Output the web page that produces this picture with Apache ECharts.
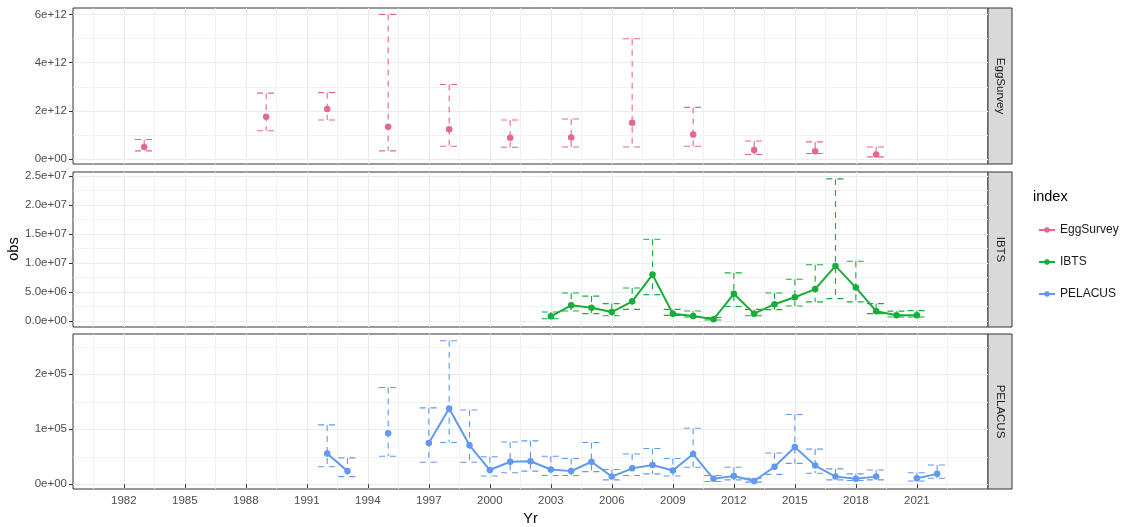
<!DOCTYPE html>
<html>
<head>
<meta charset="utf-8">
<script src="https://cdn.jsdelivr.net/npm/echarts@6/dist/echarts.min.js"></script>
<style>
  html, body { margin: 0; padding: 0; background: #fff; }
  #chart-container { width: 1121px; height: 527px; }
</style>
</head>
<body>
<div id="chart-container"></div>
<script>
// x axis ticks (years)
const xMajor = [1982, 1985, 1988, 1991, 1994, 1997, 2000, 2003, 2006, 2009, 2012, 2015, 2018, 2021];
const xMinor = [1980.5, 1983.5, 1986.5, 1989.5, 1992.5, 1995.5, 1998.5, 2001.5, 2004.5, 2007.5, 2010.5, 2013.5, 2016.5, 2019.5, 2022.5];

// EggSurvey
const eggYears = [1983, 1989, 1992, 1995, 1998, 2001, 2004, 2007, 2010, 2013, 2016, 2019];
const eggObs = [0.51e12, 1.76e12, 2.08e12, 1.35e12, 1.24e12, 0.89e12, 0.90e12, 1.51e12, 1.03e12, 0.38e12, 0.33e12, 0.20e12];
const eggLo = [0.35e12, 1.18e12, 1.63e12, 0.35e12, 0.54e12, 0.50e12, 0.51e12, 0.51e12, 0.54e12, 0.20e12, 0.24e12, 0.10e12];
const eggHi = [0.82e12, 2.74e12, 2.76e12, 6.00e12, 3.10e12, 1.63e12, 1.67e12, 4.99e12, 2.15e12, 0.76e12, 0.72e12, 0.51e12];
const eggTicks = [0, 2e12, 4e12, 6e12];
const eggTickLabels = ['0e+00', '2e+12', '4e+12', '6e+12'];
const eggMinor = [1e12, 3e12, 5e12];

// IBTS
const ibtsYears = [2003, 2004, 2005, 2006, 2007, 2008, 2009, 2010, 2011, 2012, 2013, 2014, 2015, 2016, 2017, 2018, 2019, 2020, 2021];
const ibtsObs = [0.81e6, 2.7e6, 2.3e6, 1.55e6, 3.4e6, 8.0e6, 1.27e6, 0.87e6, 0.3e6, 4.7e6, 1.27e6, 2.9e6, 4.1e6, 5.5e6, 9.5e6, 5.76e6, 1.7e6, 0.98e6, 0.98e6];
const ibtsLo = [0.4e6, 1.73e6, 1.27e6, 0.9e6, 2.0e6, 4.55e6, 0.98e6, 0.7e6, 0.18e6, 2.5e6, 0.9e6, 1.96e6, 2.6e6, 3.3e6, 3.86e6, 3.3e6, 1.27e6, 0.7e6, 0.7e6];
const ibtsHi = [1.55e6, 4.83e6, 4.3e6, 3.0e6, 5.7e6, 14.1e6, 2.0e6, 1.73e6, 0.6e6, 8.3e6, 2.0e6, 4.83e6, 7.2e6, 9.7e6, 24.5e6, 10.3e6, 3.0e6, 1.7e6, 1.8e6];
const ibtsTicks = [0, 5e6, 1e7, 1.5e7, 2e7, 2.5e7];
const ibtsTickLabels = ['0.0e+00', '5.0e+06', '1.0e+07', '1.5e+07', '2.0e+07', '2.5e+07'];
const ibtsMinor = [2.5e6, 7.5e6, 12.5e6, 17.5e6, 22.5e6];

// PELACUS
const pelYears = [1992, 1993, 1995, 1997, 1998, 1999, 2000, 2001, 2002, 2003, 2004, 2005, 2006, 2007, 2008, 2009, 2010, 2011, 2012, 2013, 2014, 2015, 2016, 2017, 2018, 2019, 2021, 2022];
const pelObs = [56e3, 24e3, 93e3, 75e3, 138e3, 71e3, 26e3, 41e3, 42e3, 27e3, 24e3, 41e3, 14e3, 29e3, 35e3, 25e3, 55e3, 10e3, 15e3, 6e3, 32e3, 68e3, 34e3, 14e3, 10e3, 14e3, 11e3, 19e3];
const pelLo = [32e3, 14e3, 51e3, 40e3, 76e3, 40e3, 15e3, 21e3, 24e3, 16e3, 16e3, 23e3, 8e3, 16e3, 19e3, 15e3, 31e3, 5e3, 8e3, 4e3, 18e3, 38e3, 20e3, 8e3, 7e3, 8e3, 6e3, 11e3];
const pelHi = [108e3, 48e3, 176e3, 139e3, 261e3, 135e3, 50e3, 77e3, 79e3, 51e3, 47e3, 76e3, 27e3, 55e3, 65e3, 47e3, 102e3, 16e3, 31e3, 11e3, 57e3, 127e3, 64e3, 28e3, 19e3, 26e3, 21e3, 35e3];
const pelTicks = [0, 1e5, 2e5];
const pelTickLabels = ['0e+00', '1e+05', '2e+05'];
const pelMinor = [5e4, 1.5e5, 2.5e5];

const FONT = "'Liberation Sans', Arial, sans-serif";
const panels = [
  { name: 'EggSurvey', color: '#E7678C', years: eggYears, obs: eggObs, lo: eggLo, hi: eggHi,
    ticks: eggTicks, labels: eggTickLabels, minor: eggMinor, min: -0.195e12, max: 6.266e12, top: 8, height: 156 },
  { name: 'IBTS', color: '#16AD3A', years: ibtsYears, obs: ibtsObs, lo: ibtsLo, hi: ibtsHi,
    ticks: ibtsTicks, labels: ibtsTickLabels, minor: ibtsMinor, min: -1.03e6, max: 25.69e6, top: 172, height: 155 },
  { name: 'PELACUS', color: '#6199F0', years: pelYears, obs: pelObs, lo: pelLo, hi: pelHi,
    ticks: pelTicks, labels: pelTickLabels, minor: pelMinor, min: -8.5e3, max: 273.3e3, top: 334, height: 155 }
];

const LEFT = 73, WIDTH = 915;

// break the line where years are not consecutive
function lineData(years, vals) {
  const out = [];
  years.forEach(function (y, i) {
    if (i > 0 && y - years[i - 1] > 1) out.push([y - 1, null]);
    out.push([y, vals[i]]);
  });
  return out;
}

function renderErrorBar(params, api) {
  const x = api.value(0);
  const pLo = api.coord([x, api.value(1)]);
  const pHi = api.coord([x, api.value(2)]);
  const half = api.size([0.9, 0])[0] / 2;
  const style = { stroke: api.visual('color'), lineWidth: 1.1, lineDash: [6, 5], fill: null };
  return {
    type: 'group',
    children: [
      { type: 'line', shape: { x1: pHi[0] - half, y1: pHi[1], x2: pHi[0] + half, y2: pHi[1] }, style: style },
      { type: 'line', shape: { x1: pHi[0], y1: pHi[1], x2: pLo[0], y2: pLo[1] }, style: style },
      { type: 'line', shape: { x1: pLo[0] - half, y1: pLo[1], x2: pLo[0] + half, y2: pLo[1] }, style: style }
    ]
  };
}

const grids = [], xAxes = [], yAxes = [], series = [], graphics = [];

panels.forEach(function (p, i) {
  const last = i === panels.length - 1;
  grids.push({
    left: LEFT, top: p.top, width: WIDTH, height: p.height,
    show: true, borderColor: '#333333', borderWidth: 1, backgroundColor: '#ffffff'
  });
  // major x
  xAxes.push({
    type: 'value', gridIndex: i, min: 1979.5, max: 2024.5, position: 'bottom',
    axisLine: { show: false },
    axisTick: { show: last, customValues: xMajor, length: 4, lineStyle: { color: '#333333' } },
    axisLabel: {
      show: last, customValues: xMajor, color: '#4D4D4D', fontSize: 11.5, margin: 6, fontFamily: FONT,
      formatter: function (v) { return String(v); }
    },
    splitLine: { show: true, lineStyle: { color: '#EBEBEB', width: 1 } },
    name: last ? 'Yr' : '', nameLocation: 'middle', nameGap: 22,
    nameTextStyle: { fontSize: 14.5, color: '#000', fontFamily: FONT }
  });
  // minor x
  xAxes.push({
    type: 'value', gridIndex: i, min: 1979.5, max: 2024.5, position: 'top',
    axisLine: { show: false },
    axisTick: { show: false, customValues: xMinor },
    axisLabel: { show: false },
    splitLine: { show: true, lineStyle: { color: '#EFEFEF', width: 0.8 } }
  });
  // major y
  yAxes.push({
    type: 'value', gridIndex: i, min: p.min, max: p.max, position: 'left',
    axisLine: { show: false },
    axisTick: { show: true, customValues: p.ticks, length: 4, lineStyle: { color: '#333333' } },
    axisLabel: {
      customValues: p.ticks, color: '#4D4D4D', fontSize: 11.5, margin: 6, fontFamily: FONT,
      formatter: function (v) {
        const k = p.ticks.findIndex(function (t) { return Math.abs(t - v) < 1e-6 * (Math.abs(t) + 1); });
        return k >= 0 ? p.labels[k] : '';
      }
    },
    splitLine: { show: true, lineStyle: { color: '#EBEBEB', width: 1 } }
  });
  // minor y
  yAxes.push({
    type: 'value', gridIndex: i, min: p.min, max: p.max, position: 'right',
    axisLine: { show: false },
    axisTick: { show: false, customValues: p.minor },
    axisLabel: { show: false },
    splitLine: { show: true, lineStyle: { color: '#EFEFEF', width: 0.8 } }
  });

  series.push({
    name: p.name, type: 'line', xAxisIndex: i * 2, yAxisIndex: i * 2,
    data: lineData(p.years, p.obs), connectNulls: false,
    symbol: 'circle', symbolSize: 6.5, showSymbol: true,
    itemStyle: { color: p.color }, lineStyle: { color: p.color, width: 2 }, z: 3
  });
  series.push({
    name: p.name, type: 'custom', xAxisIndex: i * 2, yAxisIndex: i * 2,
    data: p.years.map(function (y, k) { return [y, p.lo[k], p.hi[k]]; }),
    encode: { x: 0, y: [1, 2] },
    itemStyle: { color: p.color }, renderItem: renderErrorBar, z: 2
  });

  // facet strip
  graphics.push({
    type: 'rect', shape: { x: LEFT + WIDTH, y: p.top, width: 24, height: p.height },
    style: { fill: '#D9D9D9', stroke: '#333333', lineWidth: 1 }
  });
  graphics.push({
    type: 'text', x: LEFT + WIDTH + 12, y: p.top + p.height / 2, rotation: -Math.PI / 2,
    style: { text: p.name, fill: '#1A1A1A', font: '11.5px ' + FONT, align: 'center', verticalAlign: 'middle' }
  });
});

graphics.push({
  type: 'text', x: 14, y: 249, rotation: Math.PI / 2,
  style: { text: 'obs', fill: '#000', font: '14.5px ' + FONT, align: 'center', verticalAlign: 'middle' }
});
graphics.push({
  type: 'text', x: 1033, y: 197,
  style: { text: 'index', fill: '#000', font: '14.5px ' + FONT, align: 'left', verticalAlign: 'middle' }
});

const chart = echarts.init(document.getElementById('chart-container'));
chart.setOption({
  animation: false,
  backgroundColor: '#ffffff',
  textStyle: { fontFamily: FONT },
  grid: grids,
  xAxis: xAxes,
  yAxis: yAxes,
  legend: {
    orient: 'vertical', left: 1033, top: 219,
    itemWidth: 16, itemHeight: 7, itemGap: 20,
    lineStyle: { width: 2 },
    data: panels.map(function (p) { return p.name; }),
    textStyle: { fontSize: 12, color: '#1A1A1A', fontFamily: FONT }
  },
  graphic: graphics,
  series: series
});
</script>
</body>
</html>
